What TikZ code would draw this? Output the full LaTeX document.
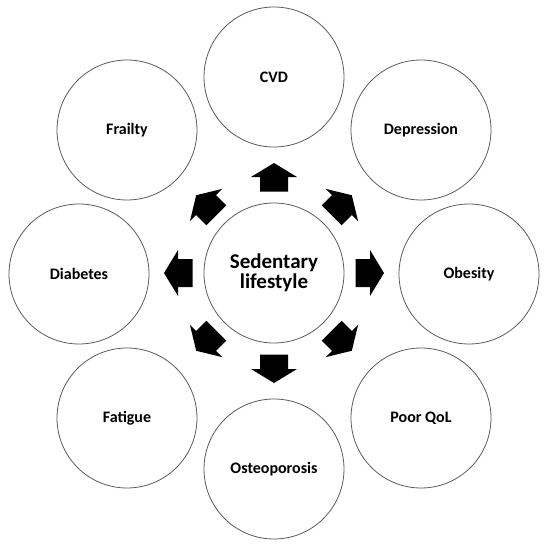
\documentclass[tikz,border=0pt]{standalone}
\usepackage{fontspec}
\setmainfont{Carlito}
\begin{document}
\begin{tikzpicture}[x=1pt,y=-1pt,
  bubble/.style={circle,draw=black!65,line width=0.8pt,minimum size=140pt,inner sep=0pt,align=center,font=\bfseries\fontsize{16}{18}\selectfont},
  hub/.style={bubble,font=\bfseries\fontsize{21}{20}\selectfont}]
\useasboundingbox (0,0) rectangle (550,546);
\node[hub] (c) at (274,273) {Sedentary\\lifestyle};
\node[bubble] (cvd) at (274,77) {CVD};
\node[bubble] (dep) at (421,130) {Depression};
\node[bubble] (obe) at (469,274) {Obesity};
\node[bubble] (qol) at (421,418) {Poor QoL};
\node[bubble] (ost) at (274,469) {Osteoporosis};
\node[bubble] (fat) at (127,418) {Fatigue};
\node[bubble] (dia) at (79,274) {Diabetes};
\node[bubble] (fra) at (127,130) {Frailty};
\foreach \a in {0,45,...,315}{
  \fill[black,shift={(c.center)},rotate=\a]
    (81.5,-14) -- (96,-14) -- (96,-23) -- (110,0) -- (96,23) -- (96,14) -- (81.5,14) -- cycle;
}
\end{tikzpicture}
\end{document}
